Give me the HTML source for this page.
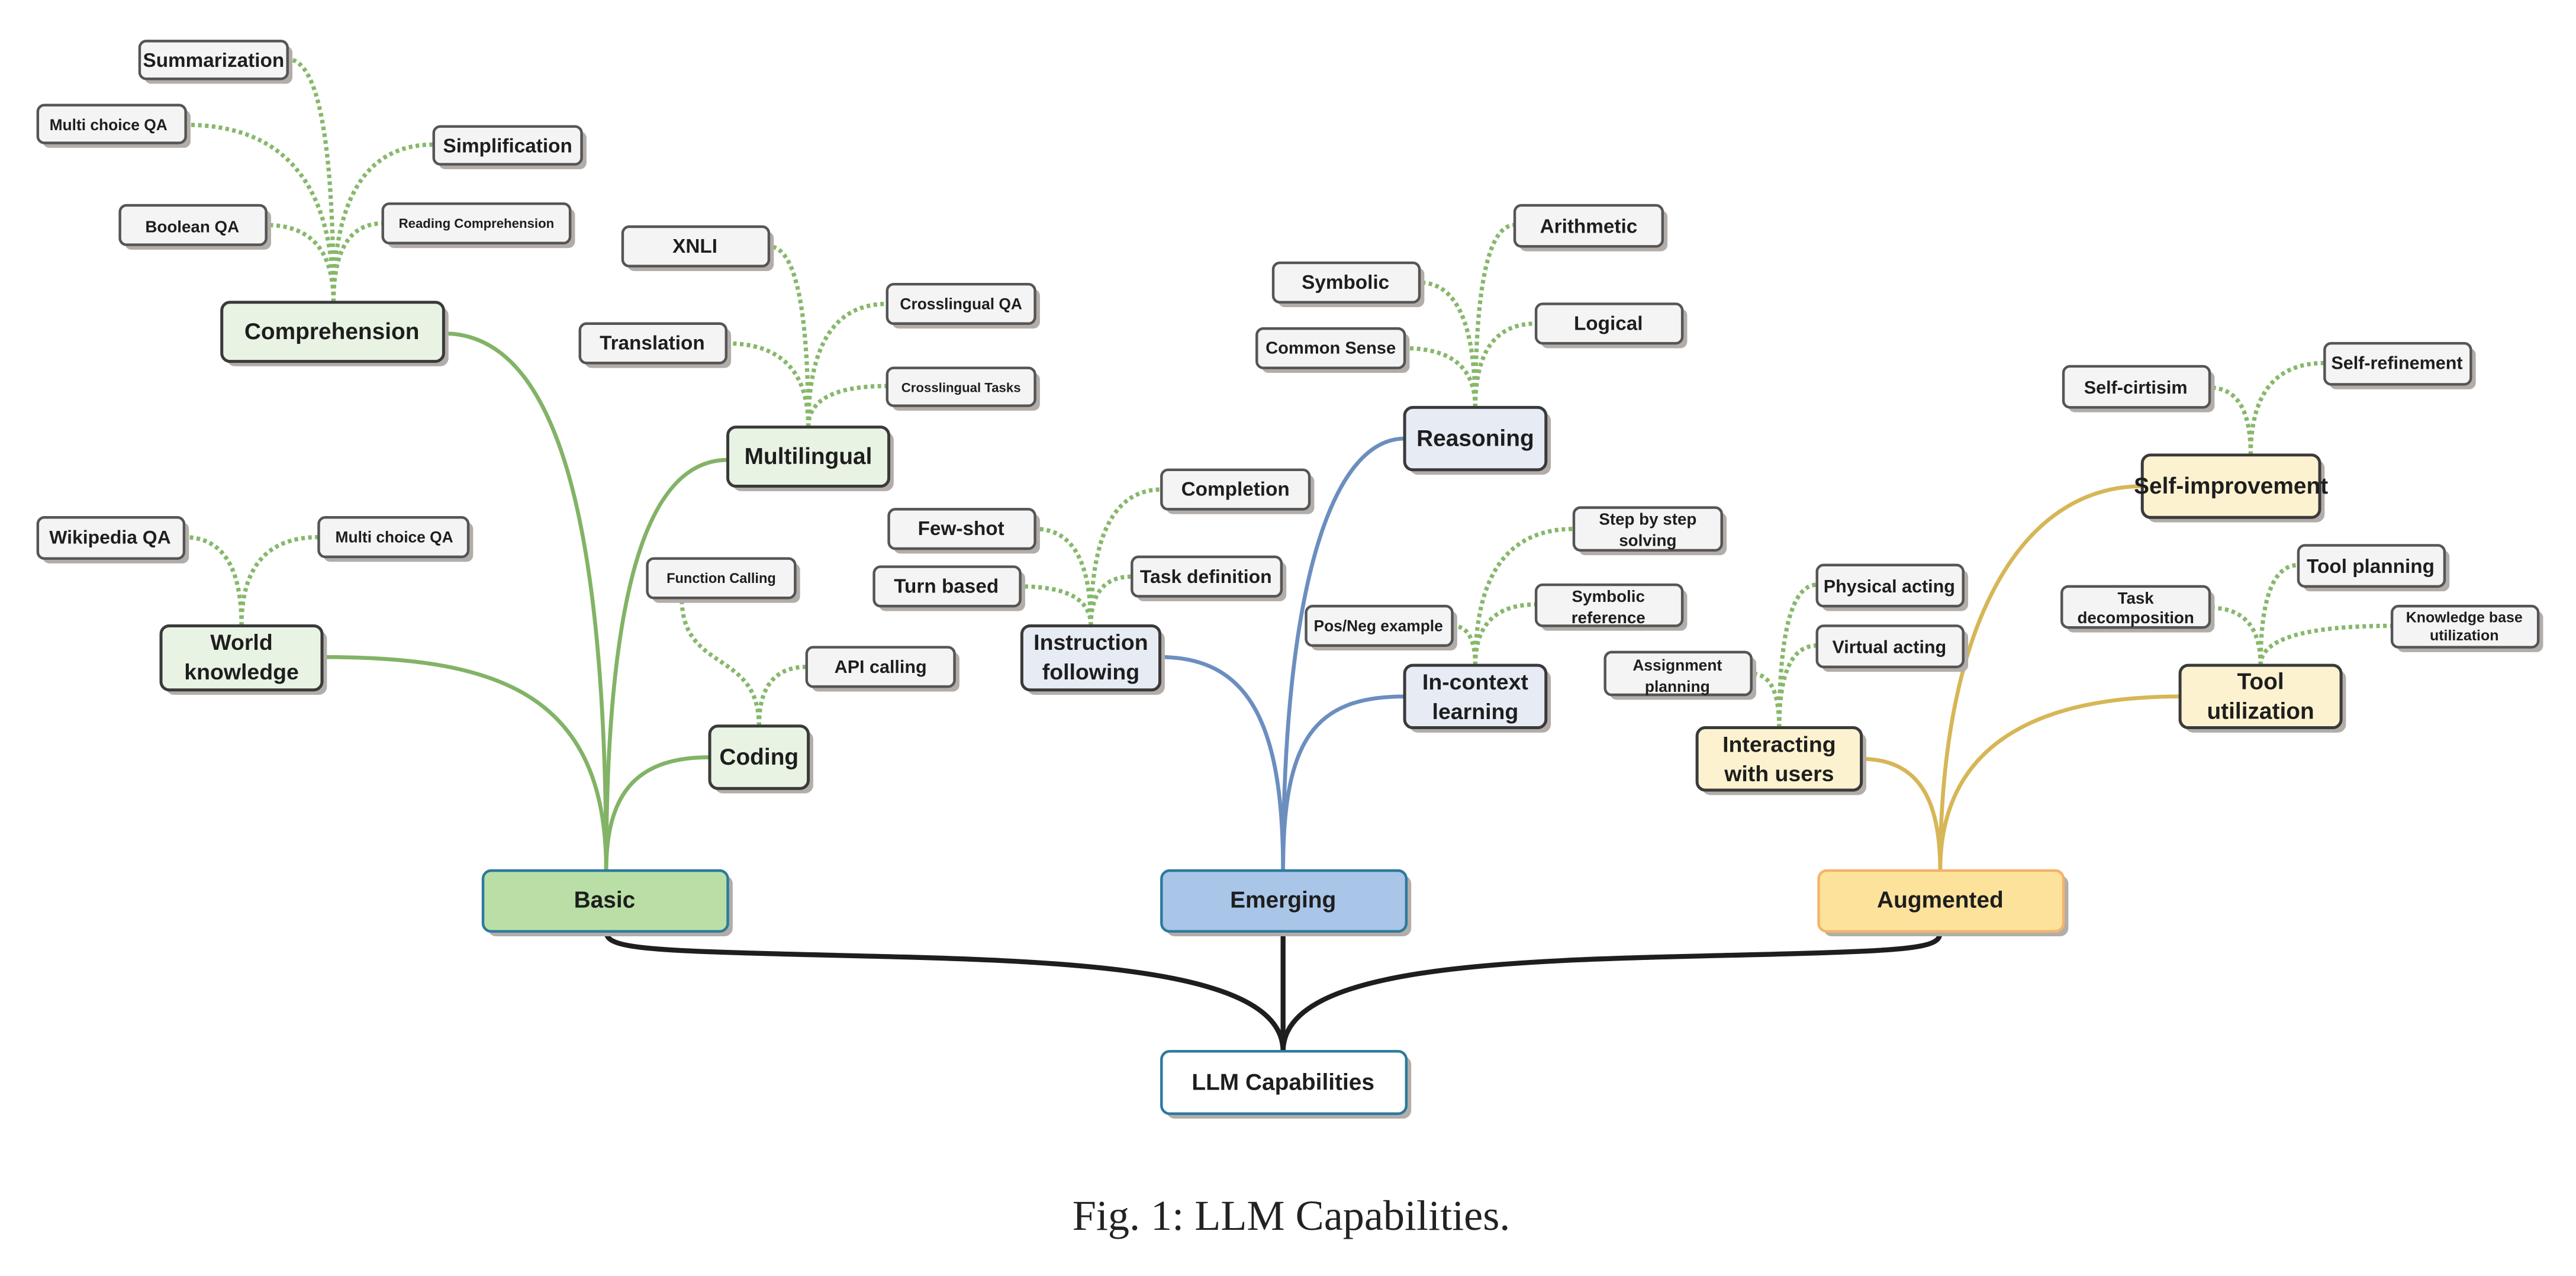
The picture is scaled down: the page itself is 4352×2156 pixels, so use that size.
<!DOCTYPE html>
<html><head><meta charset="utf-8"><style>
html,body{margin:0;padding:0;background:#fff;}
svg{display:block;}
text{font-family:"Liberation Sans",Arial,sans-serif;font-weight:bold;fill:#1e1e1e;text-anchor:middle;dominant-baseline:central;}
.sh{fill:#b3ada9;}
.lf{fill:#f4f4f4;stroke:#555;stroke-width:1.6;}
.gn{fill:#e8f3e4;stroke:#3a3a3a;stroke-width:1.8;}
.bl{fill:#e6ebf4;stroke:#3a3a3a;stroke-width:1.8;}
.yl{fill:#fdf2cf;stroke:#3a3a3a;stroke-width:1.8;}
.dot{fill:none;stroke:#86b86a;stroke-width:2.6;stroke-dasharray:2.2 2;}
.g{fill:none;stroke:#82b366;stroke-width:2.4;}
.b{fill:none;stroke:#6c8ebf;stroke-width:2.4;}
.y{fill:none;stroke:#d6b656;stroke-width:2.4;}
.k{fill:none;stroke:#1e1e1e;stroke-width:3;}
</style></head><body>
<svg width="4352" height="2156" viewBox="0 0 1568 776.8" xmlns="http://www.w3.org/2000/svg">
<!-- dotted connectors -->
<path class="dot" d="M203,184 Q203,36 175,36"/>
<path class="dot" d="M203,184 Q203,76 113,76"/>
<path class="dot" d="M203,184 Q203,88 264,88"/>
<path class="dot" d="M203,184 Q203,137 162,137"/>
<path class="dot" d="M203,184 Q203,136 233,136"/>
<path class="dot" d="M492,260 Q492,150 468,150"/>
<path class="dot" d="M492,260 Q492,185 540,185"/>
<path class="dot" d="M492,260 Q492,209 442,209"/>
<path class="dot" d="M492,260 Q492,235 540,235"/>
<path class="dot" d="M147,381 Q147,327 112,327"/>
<path class="dot" d="M147,381 Q147,327 194,327"/>
<path class="dot" d="M462,442 C462,395 415,410 415,364"/>
<path class="dot" d="M462,442 Q462,406 491,406"/>
<path class="dot" d="M664,381 Q664,322 630,322"/>
<path class="dot" d="M664,381 Q664,298 707,298"/>
<path class="dot" d="M664,381 Q664,357 621,357"/>
<path class="dot" d="M664,381 Q664,351 689,351"/>
<path class="dot" d="M898,248 Q898,137 922,137"/>
<path class="dot" d="M898,248 Q898,172 864,172"/>
<path class="dot" d="M898,248 Q898,197 935,197"/>
<path class="dot" d="M898,248 Q898,212 855,212"/>
<path class="dot" d="M898,405 Q898,322 958,322"/>
<path class="dot" d="M898,405 Q898,368 935,368"/>
<path class="dot" d="M898,405 Q898,381 884,381"/>
<path class="dot" d="M1370,277 Q1370,236 1345,236"/>
<path class="dot" d="M1370,277 Q1370,221 1415,221"/>
<path class="dot" d="M1376,405 Q1376,344 1399,344"/>
<path class="dot" d="M1376,405 Q1376,370 1345,370"/>
<path class="dot" d="M1376,405 Q1376,381 1456,381"/>
<path class="dot" d="M1083,443 Q1083,356 1106,356"/>
<path class="dot" d="M1083,443 Q1083,393 1106,393"/>
<path class="dot" d="M1083,443 Q1083,410 1066,410"/>
<!-- solid connectors -->
<path class="g" d="M369,530 C369,320 340,203 270,203"/>
<path class="g" d="M369,530 C369,340 400,280 443,280"/>
<path class="g" d="M369,530 C369,420 300,400 196,400"/>
<path class="g" d="M369,530 C369,480 390,461 432,461"/>
<path class="b" d="M781,530 C781,360 810,267 855,267"/>
<path class="b" d="M781,530 C781,440 760,400 706,400"/>
<path class="b" d="M781,530 C781,450 800,424 855,424"/>
<path class="y" d="M1181,530 C1181,380 1230,296 1304,296"/>
<path class="y" d="M1181,530 C1181,460 1230,424 1327,424"/>
<path class="y" d="M1181,530 C1181,490 1170,462 1133,462"/>
<path class="k" d="M781,640 C781,580 600,585 450,580 C380,578 369,575 369,567"/>
<path class="k" d="M781,640 L781,567"/>
<path class="k" d="M781,640 C781,580 960,585 1110,580 C1175,578 1181,575 1181,567"/>
<!-- nodes -->
<g>
<rect class="sh" x="88" y="28" width="90" height="23" rx="4"/><rect class="lf" x="85" y="25" width="90" height="23" rx="4"/><text x="130" y="37" font-size="12">Summarization</text>
<rect class="sh" x="26" y="67" width="90" height="23" rx="4"/><rect class="lf" x="23" y="64" width="90" height="23" rx="4"/><text x="66" y="76" font-size="9.5">Multi choice QA</text>
<rect class="sh" x="267" y="80" width="90" height="23" rx="4"/><rect class="lf" x="264" y="77" width="90" height="23" rx="4"/><text x="309" y="89" font-size="12">Simplification</text>
<rect class="sh" x="76" y="128" width="89" height="24" rx="4"/><rect class="lf" x="73" y="125" width="89" height="24" rx="4"/><text x="117" y="138" font-size="10">Boolean QA</text>
<rect class="sh" x="236" y="127" width="114" height="24" rx="4"/><rect class="lf" x="233" y="124" width="114" height="24" rx="4"/><text x="290" y="136" font-size="8">Reading Comprehension</text>
<rect class="sh" x="138" y="187" width="135" height="36" rx="5"/><rect class="gn" x="135" y="184" width="135" height="36" rx="5"/><text x="202" y="202" font-size="14">Comprehension</text>

<rect class="sh" x="382" y="141" width="89" height="24" rx="4"/><rect class="lf" x="379" y="138" width="89" height="24" rx="4"/><text x="423" y="150" font-size="12" font-weight="normal">XNLI</text>
<rect class="sh" x="543" y="176" width="90" height="24" rx="4"/><rect class="lf" x="540" y="173" width="90" height="24" rx="4"/><text x="585" y="185" font-size="9.5">Crosslingual QA</text>
<rect class="sh" x="356" y="200" width="89" height="24" rx="4"/><rect class="lf" x="353" y="197" width="89" height="24" rx="4"/><text x="397" y="209" font-size="12">Translation</text>
<rect class="sh" x="543" y="227" width="90" height="23" rx="4"/><rect class="lf" x="540" y="224" width="90" height="23" rx="4"/><text x="585" y="236" font-size="8">Crosslingual Tasks</text>
<rect class="sh" x="446" y="263" width="98" height="36" rx="5"/><rect class="gn" x="443" y="260" width="98" height="36" rx="5"/><text x="492" y="278" font-size="14">Multilingual</text>

<rect class="sh" x="26" y="318" width="89" height="25" rx="4"/><rect class="lf" x="23" y="315" width="89" height="25" rx="4"/><text x="67" y="327" font-size="11.5">Wikipedia QA</text>
<rect class="sh" x="197" y="318" width="91" height="24" rx="4"/><rect class="lf" x="194" y="315" width="91" height="24" rx="4"/><text x="240" y="327" font-size="9.5">Multi choice QA</text>
<rect class="sh" x="101" y="384" width="98" height="39" rx="5"/><rect class="gn" x="98" y="381" width="98" height="39" rx="5"/><text x="147" y="391" font-size="13.5">World</text><text x="147" y="409" font-size="13.5">knowledge</text>

<rect class="sh" x="397" y="343" width="90" height="24" rx="4"/><rect class="lf" x="394" y="340" width="90" height="24" rx="4"/><text x="439" y="352" font-size="8.5">Function Calling</text>
<rect class="sh" x="494" y="397" width="90" height="24" rx="4"/><rect class="lf" x="491" y="394" width="90" height="24" rx="4"/><text x="536" y="406" font-size="11">API calling</text>
<rect class="sh" x="435" y="445" width="60" height="38" rx="5"/><rect class="gn" x="432" y="442" width="60" height="38" rx="5"/><text x="462" y="461" font-size="14">Coding</text>

<rect class="sh" x="544" y="313" width="89" height="24" rx="4"/><rect class="lf" x="541" y="310" width="89" height="24" rx="4"/><text x="585" y="322" font-size="12">Few-shot</text>
<rect class="sh" x="710" y="289" width="90" height="24" rx="4"/><rect class="lf" x="707" y="286" width="90" height="24" rx="4"/><text x="752" y="298" font-size="12">Completion</text>
<rect class="sh" x="535" y="348" width="89" height="24" rx="4"/><rect class="lf" x="532" y="345" width="89" height="24" rx="4"/><text x="576" y="357" font-size="12">Turn based</text>
<rect class="sh" x="692" y="342" width="91" height="24" rx="4"/><rect class="lf" x="689" y="339" width="91" height="24" rx="4"/><text x="734" y="351" font-size="11.5">Task definition</text>
<rect class="sh" x="625" y="384" width="84" height="39" rx="5"/><rect class="bl" x="622" y="381" width="84" height="39" rx="5"/><text x="664" y="391" font-size="13.5">Instruction</text><text x="664" y="409" font-size="13.5">following</text>

<rect class="sh" x="925" y="128" width="90" height="25" rx="4"/><rect class="lf" x="922" y="125" width="90" height="25" rx="4"/><text x="967" y="138" font-size="12">Arithmetic</text>
<rect class="sh" x="778" y="163" width="89" height="24" rx="4"/><rect class="lf" x="775" y="160" width="89" height="24" rx="4"/><text x="819" y="172" font-size="12">Symbolic</text>
<rect class="sh" x="938" y="188" width="89" height="24" rx="4"/><rect class="lf" x="935" y="185" width="89" height="24" rx="4"/><text x="979" y="197" font-size="12">Logical</text>
<rect class="sh" x="768" y="203" width="90" height="24" rx="4"/><rect class="lf" x="765" y="200" width="90" height="24" rx="4"/><text x="810" y="212" font-size="10.5">Common Sense</text>
<rect class="sh" x="858" y="251" width="86" height="38" rx="5"/><rect class="bl" x="855" y="248" width="86" height="38" rx="5"/><text x="898" y="267" font-size="14">Reasoning</text>

<rect class="sh" x="961" y="312" width="90" height="26" rx="4"/><rect class="lf" x="958" y="309" width="90" height="26" rx="4"/><text x="1003" y="316" font-size="10">Step by step</text><text x="1003" y="329" font-size="10">solving</text>
<rect class="sh" x="938" y="359" width="89" height="25" rx="4"/><rect class="lf" x="935" y="356" width="89" height="25" rx="4"/><text x="979" y="363" font-size="10">Symbolic</text><text x="979" y="376" font-size="10">reference</text>
<rect class="sh" x="798" y="372" width="89" height="24" rx="4"/><rect class="lf" x="795" y="369" width="89" height="24" rx="4"/><text x="839" y="381" font-size="9.5">Pos/Neg example</text>
<rect class="sh" x="858" y="408" width="86" height="38" rx="5"/><rect class="bl" x="855" y="405" width="86" height="38" rx="5"/><text x="898" y="415" font-size="13.5">In-context</text><text x="898" y="433" font-size="13.5">learning</text>

<rect class="sh" x="1259" y="226" width="89" height="25" rx="4"/><rect class="lf" x="1256" y="223" width="89" height="25" rx="4"/><text x="1300" y="236" font-size="11">Self-cirtisim</text>
<rect class="sh" x="1418" y="212" width="89" height="25" rx="4"/><rect class="lf" x="1415" y="209" width="89" height="25" rx="4"/><text x="1459" y="221" font-size="11">Self-refinement</text>
<rect class="sh" x="1307" y="280" width="108" height="38" rx="5"/><rect class="yl" x="1304" y="277" width="108" height="38" rx="5"/><text x="1358" y="296" font-size="14">Self-improvement</text>

<rect class="sh" x="1402" y="335" width="89" height="25" rx="4"/><rect class="lf" x="1399" y="332" width="89" height="25" rx="4"/><text x="1443" y="345" font-size="12">Tool planning</text>
<rect class="sh" x="1258" y="360" width="90" height="25" rx="4"/><rect class="lf" x="1255" y="357" width="90" height="25" rx="4"/><text x="1300" y="364" font-size="10">Task</text><text x="1300" y="376" font-size="10">decomposition</text>
<rect class="sh" x="1459" y="372" width="89" height="25" rx="4"/><rect class="lf" x="1456" y="369" width="89" height="25" rx="4"/><text x="1500" y="376" font-size="9">Knowledge base</text><text x="1500" y="387" font-size="9">utilization</text>
<rect class="sh" x="1330" y="408" width="98" height="38" rx="5"/><rect class="yl" x="1327" y="405" width="98" height="38" rx="5"/><text x="1376" y="415" font-size="14">Tool</text><text x="1376" y="433" font-size="14">utilization</text>

<rect class="sh" x="1109" y="347" width="89" height="25" rx="4"/><rect class="lf" x="1106" y="344" width="89" height="25" rx="4"/><text x="1150" y="357" font-size="11">Physical acting</text>
<rect class="sh" x="1109" y="384" width="89" height="25" rx="4"/><rect class="lf" x="1106" y="381" width="89" height="25" rx="4"/><text x="1150" y="394" font-size="11">Virtual acting</text>
<rect class="sh" x="980" y="400" width="89" height="26" rx="4"/><rect class="lf" x="977" y="397" width="89" height="26" rx="4"/><text x="1021" y="405" font-size="9.5">Assignment</text><text x="1021" y="418" font-size="9.5">planning</text>
<rect class="sh" x="1036" y="446" width="100" height="38" rx="5"/><rect class="yl" x="1033" y="443" width="100" height="38" rx="5"/><text x="1083" y="453" font-size="13.5">Interacting</text><text x="1083" y="471" font-size="13.5">with users</text>

<rect class="sh" x="297" y="533" width="149" height="37" rx="5"/><rect x="294" y="530" width="149" height="37" rx="5" fill="#b9dfa7" stroke="#2c7a9c" stroke-width="1.6"/><text x="368" y="548" font-size="14">Basic</text>
<rect class="sh" x="710" y="533" width="149" height="37" rx="5"/><rect x="707" y="530" width="149" height="37" rx="5" fill="#a9c5e8" stroke="#2c7a9c" stroke-width="1.6"/><text x="781" y="548" font-size="14">Emerging</text>
<rect class="sh" x="1110" y="533" width="149" height="37" rx="5"/><rect x="1107" y="530" width="149" height="37" rx="5" fill="#fde29b" stroke="#f2b46e" stroke-width="1.6"/><text x="1181" y="548" font-size="14">Augmented</text>
<rect class="sh" x="710" y="643" width="149" height="38" rx="5"/><rect x="707" y="640" width="149" height="38" rx="5" fill="#fff" stroke="#2c7a9c" stroke-width="1.6"/><text x="781" y="659" font-size="14">LLM Capabilities</text>
</g>
<text x="786" y="740" font-size="26" style="font-family:'Liberation Serif',serif;font-weight:normal;fill:#222">Fig. 1: LLM Capabilities.</text>
</svg>
</body></html>
